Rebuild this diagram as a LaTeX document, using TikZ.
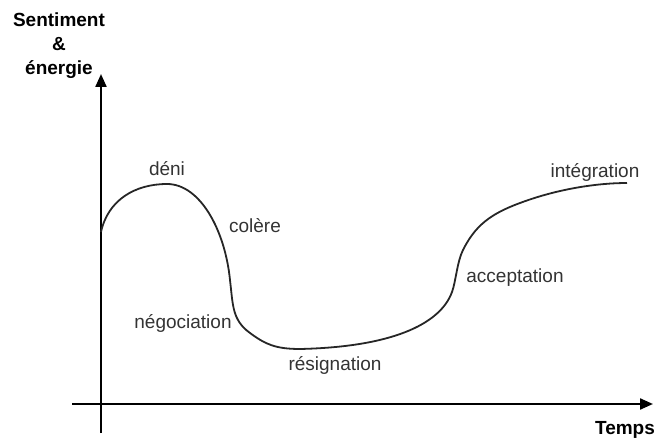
\documentclass[tikz,border=0pt]{standalone}
\usepackage{fontspec}
\setmainfont{Liberation Sans}
\usetikzlibrary{arrows.meta}
\definecolor{curvecol}{HTML}{262626}
\definecolor{labelcol}{HTML}{333333}
\tikzset{
  axis/.style={line width=2.2pt, draw=black, -{Triangle[length=13pt,width=11pt]}},
  curve/.style={line width=1.8pt, draw=curvecol},
  stage/.style={font=\fontsize{19}{22}\selectfont, text=labelcol, inner sep=0pt},
  axlabel/.style={font=\fontsize{19}{24}\selectfont\bfseries, text=black, inner sep=0pt, align=center},
}
\begin{document}
\begin{tikzpicture}[x=1pt,y=-1pt]
\useasboundingbox (0,0) rectangle (657,441);
\coordinate (yb) at (101,433);
\coordinate (yt) at (101,74);
\coordinate (xl) at (72,404);
\coordinate (xr) at (653,404);
\draw[axis] (yb) -- (yt);
\draw[axis] (xl) -- (xr);
\draw[curve] (101,232) .. controls (108,200) and (135,184) .. (167,184)
  .. controls (200,184) and (225,230) .. (230,280)
  .. controls (233,305) and (232,320) .. (250,333)
  .. controls (265,344) and (275,349) .. (300,349)
  .. controls (390,347) and (440,325) .. (452,292)
  .. controls (456,281) and (457,262) .. (463,250)
  .. controls (475,226) and (490,214) .. (520,203)
  .. controls (560,188) and (600,183) .. (627,183);
\node[axlabel] (ylab) at (59,46) {Sentiment\\\&\\énergie};
\node[axlabel] (xlab) at (625,430) {Temps};
\node[stage] (deni) at (167,169) {déni};
\node[stage] (colere) at (255,226) {colère};
\node[stage] (nego) at (183,323) {négociation};
\node[stage] (resi) at (335,365) {résignation};
\node[stage] (accept) at (515,278) {acceptation};
\node[stage] (integ) at (595,172) {intégration};
\end{tikzpicture}
\end{document}
